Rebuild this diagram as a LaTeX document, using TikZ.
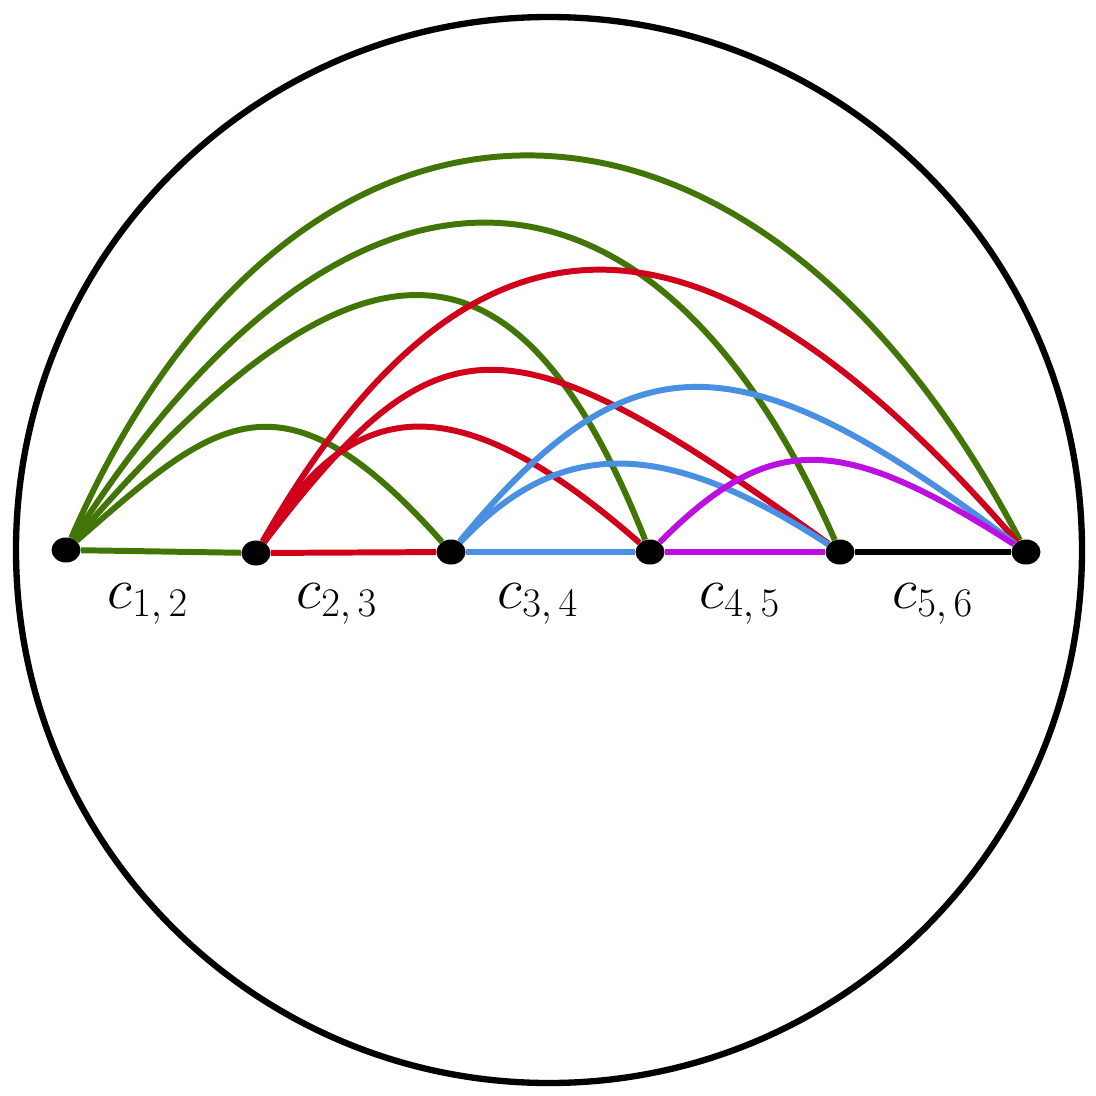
\RequirePackage{fix-cm}
\documentclass[tikz,border=0pt]{standalone}
\usetikzlibrary{shapes.geometric}
\definecolor{cgreen}{HTML}{417505}
\definecolor{cred}{HTML}{D0021B}
\definecolor{cblue}{HTML}{4A90E2}
\definecolor{cpurple}{HTML}{BD10E0}
\begin{document}
\begin{tikzpicture}[x=0.02cm,y=-0.02cm,
  edge/.style={line width=3.4pt},
  vtx/.style={ellipse,fill=black,minimum width=0.58cm,minimum height=0.5cm,inner sep=0pt},
  lbl/.style={anchor=base,inner sep=0pt,font=\fontsize{33}{40}\selectfont}]
\useasboundingbox (0,0) rectangle (1096,1096);
\draw[line width=3.6pt] (549,550) circle[radius=533];
% vertices
\node[vtx] (p1) at (66,550) {};
\node[vtx] (p2) at (256,553) {};
\node[vtx] (p3) at (451,552) {};
\node[vtx] (p4) at (650,552) {};
\node[vtx] (p5) at (840,552) {};
\node[vtx] (p6) at (1026,552) {};
% straight edges
\draw[edge,cgreen] (p1) -- (p2);
\draw[edge,cred] (p2) -- (p3);
\draw[edge,cblue] (p3) -- (p4);
\draw[edge,cpurple] (p4) -- (p5);
\draw[edge,black] (p5) -- (p6);
% green arcs
\draw[edge,cgreen] (p1) .. controls (295,25) and (754,30) .. (p6);
\draw[edge,cgreen] (p1) .. controls (345,112) and (652,122) .. (p5);
\draw[edge,cgreen] (p1) .. controls (360,207) and (518,220) .. (p4);
\draw[edge,cgreen] (p1) .. controls (215,420) and (280,360) .. (p3);
% red arcs
\draw[edge,cred] (p2) .. controls (470,179) and (703,179) .. (p6);
\draw[edge,cred] (p2) .. controls (440,312) and (507,312) .. (p5);
\draw[edge,cred] (p2) .. controls (355,388) and (463,388) .. (p4);
% blue arcs
\draw[edge,cblue] (p3) .. controls (630,335) and (739,335) .. (p6);
\draw[edge,cblue] (p3) .. controls (560,437) and (663,437) .. (p5);
% purple arc
\draw[edge,cpurple] (p4) .. controls (770,432) and (839,432) .. (p6);
% labels
\node[lbl] (l12) at (148,608) {$c_{1,\,2}$};
\node[lbl] (l23) at (337,608) {$c_{2,\,3}$};
\node[lbl] (l34) at (538,608) {$c_{3,\,4}$};
\node[lbl] (l45) at (740,608) {$c_{4,\,5}$};
\node[lbl] (l56) at (933,608) {$c_{5,\,6}$};
\end{tikzpicture}
\end{document}
